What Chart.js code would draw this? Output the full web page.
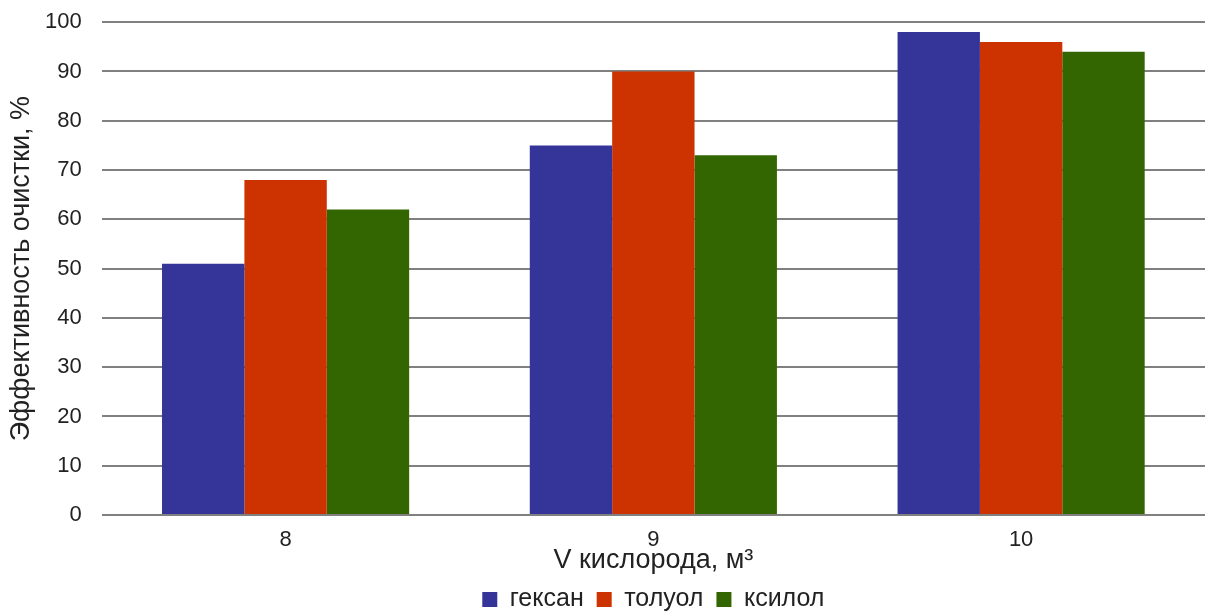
<!DOCTYPE html>
<html>
<head>
<meta charset="utf-8">
<script src="https://cdn.jsdelivr.net/npm/chart.js@4.4.1/dist/chart.umd.min.js"></script>
<style>
  html, body { margin: 0; padding: 0; background: #fff; }
  #wrap { width: 1205px; height: 612px; position: relative; }
</style>
</head>
<body>
<div id="wrap"><canvas id="chart"></canvas></div>
<script>
var categories = ['8', '9', '10'];
var seriesNames = ['гексан', 'толуол', 'ксилол'];
var hexane = [51, 75, 98];
var toluene = [68, 90, 96];
var xylene = [62, 73, 94];
var seriesColors = ['#353599', '#CC3300', '#336600'];

(function () {
    var font = 'Liberation Sans, Arial, sans-serif';
    var textColor = '#222';
    var values = [hexane, toluene, xylene];

    var datasets = seriesNames.map(function (name, i) {
        return {
            label: name,
            data: values[i],
            backgroundColor: seriesColors[i],
            borderWidth: 0,
            categoryPercentage: 0.672,
            barPercentage: 1.0
        };
    });

    new Chart(document.getElementById('chart'), {
        type: 'bar',
        data: { labels: categories, datasets: datasets },
        options: {
            responsive: true,
            maintainAspectRatio: false,
            animation: false,
            layout: { padding: { top: 5, right: 0, left: 8, bottom: -10 } },
            plugins: {
                legend: {
                    position: 'bottom',
                    fullSize: false,
                    labels: {
                        font: { family: font, size: 25, lineHeight: 1 },
                        color: textColor,
                        boxWidth: 15,
                        boxHeight: 15,
                        padding: 13
                    }
                },
                tooltip: { enabled: false }
            },
            scales: {
                x: {
                    grid: { display: false },
                    border: { display: false },
                    ticks: {
                        font: { family: font, size: 22, lineHeight: 1 },
                        color: textColor,
                        padding: 6
                    },
                    title: {
                        display: true,
                        text: 'V кислорода, м³',
                        font: { family: font, size: 27, lineHeight: 1 },
                        color: textColor,
                        padding: { top: -10, bottom: 0 }
                    }
                },
                y: {
                    min: 0,
                    max: 100,
                    ticks: {
                        stepSize: 10,
                        // small lineHeight keeps the top overhang tight (single-line labels)
                        font: { family: font, size: 22, lineHeight: 0.2 },
                        color: textColor,
                        padding: 20
                    },
                    grid: {
                        color: '#808080',
                        lineWidth: 2,
                        drawTicks: false
                    },
                    border: { display: false },
                    title: {
                        display: true,
                        text: 'Эффективность очистки, %',
                        font: { family: font, size: 27, lineHeight: 1 },
                        color: textColor,
                        padding: { top: 0, bottom: -10 }
                    }
                }
            }
        }
    });
})();
</script>
</body>
</html>
